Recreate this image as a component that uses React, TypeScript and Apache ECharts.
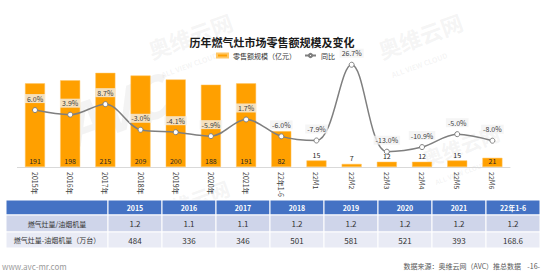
import React, { useEffect, useRef } from "react";
import * as echarts from "echarts";

const categories = ["2015年", "2016年", "2017年", "2018年", "2019年", "2020年", "2021年", "22年1-6", "22M1", "22M2", "22M3", "22M4", "22M5", "22M6"];
const salesValues = [191, 198, 215, 209, 200, 188, 191, 82, 15, 7, 12, 12, 15, 21];
const yoyValues = [6.0, 3.9, 8.7, -3.0, -4.1, -5.9, 1.7, -6.0, -7.9, 26.7, -13.0, -10.9, -5.0, -8.0];
const tableYears = ["2015", "2016", "2017", "2018", "2019", "2020", "2021", "22年1-6"];
const ratioValues = ["1.2", "1.1", "1.1", "1.2", "1.2", "1.2", "1.2", "1.2"];
const diffValues = ["484", "336", "346", "501", "581", "521", "393", "168.6"];
const rowLabels = ["燃气灶量/油烟机量", "燃气灶量-油烟机量（万台）"];

const FONT = "'Noto Sans CJK SC', 'Noto Sans', sans-serif";
const WM = "rgba(180,180,180,0.14)";

function buildTable(): any[] {
  const els: any[] = [];
  const left = 6;
  const labelW = 102;
  const colW = 54;
  const rows = [
    { top: 200, h: 15, fill: "#4472C4" },
    { top: 215, h: 17, fill: "#CFD5EA" },
    { top: 232, h: 16, fill: "#E9EBF5" },
  ];
  rows.forEach((r, ri) => {
    els.push({
      type: "rect",
      shape: { x: left, y: r.top, width: labelW, height: r.h },
      style: { fill: r.fill, stroke: "#ffffff", lineWidth: 1 },
      silent: true,
    });
    for (let c = 0; c < tableYears.length; c++) {
      els.push({
        type: "rect",
        shape: { x: left + labelW + c * colW, y: r.top, width: colW, height: r.h },
        style: { fill: r.fill, stroke: "#ffffff", lineWidth: 1 },
        silent: true,
      });
    }
    if (ri > 0) {
      els.push({
        type: "text",
        x: left + labelW / 2,
        y: r.top + r.h / 2,
        style: { text: rowLabels[ri - 1], fill: "#333333", fontSize: 7, fontFamily: FONT, align: "center", verticalAlign: "middle" },
        silent: true,
      });
    }
    const vals = ri === 0 ? tableYears : ri === 1 ? ratioValues : diffValues;
    vals.forEach((v, c) => {
      els.push({
        type: "text",
        x: left + labelW + c * colW + colW / 2,
        y: r.top + r.h / 2,
        style: {
          text: v,
          fill: ri === 0 ? "#ffffff" : "#333333",
          fontSize: ri === 0 ? 7 : 8,
          fontWeight: ri === 0 ? "bold" : "normal",
          fontFamily: FONT,
          align: "center",
          verticalAlign: "middle",
        },
        silent: true,
      });
    });
  });
  return els;
}

function watermark(x: number, y: number, size: number): any[] {
  return [
    {
      type: "text",
      x,
      y,
      rotation: 0.35,
      style: { text: "奥维云网", fill: WM, fontSize: size, fontWeight: "bold", fontFamily: FONT },
      silent: true,
      z: -1,
    },
    {
      type: "text",
      x: x + size * 0.7,
      y: y + size * 1.45,
      rotation: 0.35,
      style: { text: "ALL VIEW CLOUD", fill: WM, fontSize: size * 0.33, fontWeight: "bold", fontFamily: FONT },
      silent: true,
      z: -1,
    },
  ];
}

export default function App() {
  const ref = useRef<HTMLDivElement>(null);
  useEffect(() => {
    if (!ref.current) return;
    const chart = echarts.init(ref.current, undefined, { renderer: "svg" });
    const barData = salesValues.map((v) => ({
      value: v,
      label: v >= 20 ? { position: "insideBottom", distance: 3 } : { position: "top", distance: 2 },
    }));
    chart.setOption({
      animation: false,
      backgroundColor: "#ffffff",
      textStyle: { fontFamily: FONT },
      title: {
        text: "历年燃气灶市场零售额规模及变化",
        left: "center",
        top: 31,
        textStyle: { fontSize: 11, fontWeight: "bold", color: "#1a1a1a", fontFamily: FONT },
      },
      legend: {
        left: 211,
        top: 47,
        itemWidth: 11,
        itemHeight: 4,
        itemGap: 8,
        textStyle: { fontSize: 7, color: "#333333", fontFamily: FONT },
        data: [{ name: "零售额规模（亿元）", icon: "rect" }, { name: "同比" }],
      },
      grid: { left: 17.4, right: 34, top: 40, bottom: 112 },
      xAxis: {
        type: "category",
        data: categories,
        axisLine: { lineStyle: { color: "#d9d9d9" } },
        axisTick: { show: false },
        axisLabel: { rotate: -90, fontSize: 7, color: "#404040", margin: 5, interval: 0, fontFamily: FONT },
      },
      yAxis: [
        { type: "value", min: 0, max: 290, show: false, splitLine: { show: false } },
        { type: "value", min: -20, max: 38, show: false, splitLine: { show: false } },
      ],
      series: [
        {
          name: "零售额规模（亿元）",
          type: "bar",
          data: barData,
          barWidth: 20,
          itemStyle: { color: "#FFA000", borderColor: "#FFC766", borderWidth: 0.5 },
          label: { show: true, fontSize: 7, color: "#262626", fontFamily: FONT },
        },
        {
          name: "同比",
          type: "line",
          yAxisIndex: 1,
          data: yoyValues,
          smooth: 0.35,
          symbol: "circle",
          symbolSize: 5,
          lineStyle: { color: "#7f7f7f", width: 1.5 },
          itemStyle: { color: "#ffffff", borderColor: "#7f7f7f", borderWidth: 1 },
          label: {
            show: true,
            position: "top",
            distance: 4,
            fontSize: 7,
            color: "#404040",
            fontFamily: FONT,
            backgroundColor: "rgba(242,242,242,0.78)",
            padding: [1, 2],
            formatter: (p: any) => p.value.toFixed(1) + "%",
          },
          z: 3,
        },
      ],
      graphic: [
        ...watermark(145, 40, 22),
        ...watermark(375, 40, 22),
        ...watermark(420, 150, 20),
        ...watermark(150, 205, 20),
        {
          type: "text",
          x: 55,
          y: 100,
          rotation: 0.35,
          style: { text: "AVC", fill: "rgba(180,180,180,0.16)", fontSize: 56, fontWeight: "bold", fontStyle: "italic", fontFamily: FONT },
          silent: true,
          z: -1,
        },
        ...buildTable(),
        {
          type: "text",
          x: 2,
          y: 266,
          style: { text: "www.avc-mr.com", fill: "#9a9a9a", fontSize: 8, fontFamily: FONT, verticalAlign: "middle" },
          silent: true,
        },
        {
          type: "text",
          x: 540,
          y: 266,
          style: { text: "数据来源：奥维云网（AVC）推总数据    -16-", fill: "#595959", fontSize: 7, fontFamily: FONT, align: "right", verticalAlign: "middle" },
          silent: true,
        },
      ],
    });
    return () => chart.dispose();
  }, []);
  return <div ref={ref} style={{ position: "absolute", left: 0, top: 0, width: 544, height: 279 }} />;
}
